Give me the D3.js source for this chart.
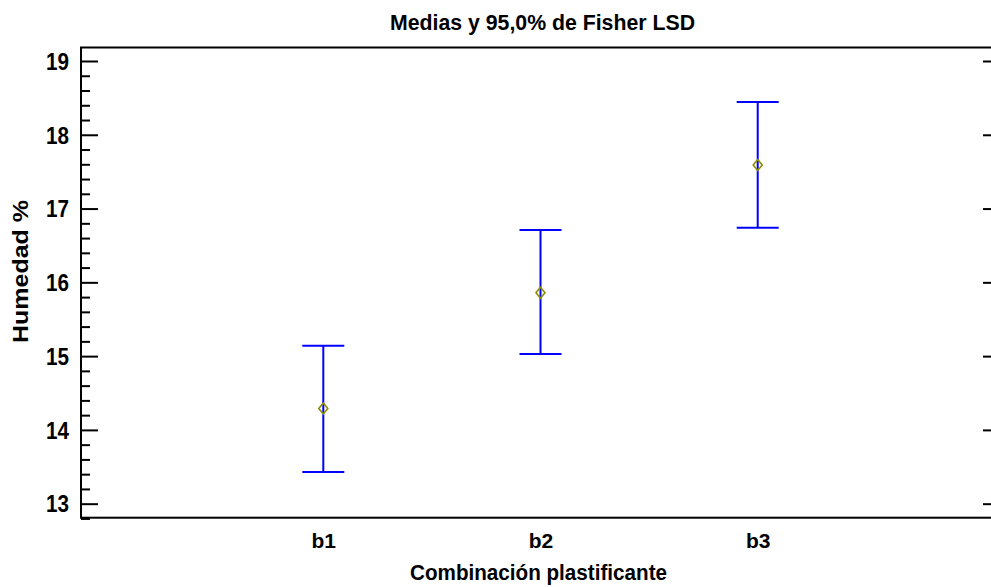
<!DOCTYPE html>
<html><head><meta charset="utf-8">
<script src="https://cdn.jsdelivr.net/npm/d3@7"></script>
<style>body{margin:0;background:#fff}svg{display:block}text{font-family:"Liberation Sans",Arial,sans-serif;font-weight:bold}</style>
</head><body>
<script>
const categories = ["b1","b2","b3"];
const means = [14.29, 15.86, 17.59];
const lower = [13.43, 15.03, 16.74];
const upper = [15.14, 16.71, 18.445];
const majorTicks = [13,14,15,16,17,18,19];
const minorTicks = d3.range(12.8, 19.2, 0.2).map(v=>+v.toFixed(1)).filter(v=>!majorTicks.includes(v));
const title = "Medias y 95,0% de Fisher LSD";
const xLabel = "Combinación plastificante";
const yLabel = "Humedad %";

const W=991,H=587, L=81, R=1000, T=47.5, B=517.7;
const svg=d3.select("body").append("svg").attr("width",W).attr("height",H);
const x=d3.scalePoint().domain(categories).range([L,R]).padding(1.1155);
const y=d3.scaleLinear().domain([12.81,19.183]).range([B,T]);

// frame
svg.append("rect").attr("x",L).attr("y",T).attr("width",R-L).attr("height",B-T)
  .attr("fill","none").attr("stroke","#000").attr("stroke-width",2);

// left axis
const gl=svg.append("g").attr("transform",`translate(${L},0)`)
  .call(d3.axisLeft(y).tickValues(majorTicks).tickSize(-17).tickPadding(12).tickFormat(d3.format("d")));
gl.select(".domain").remove();
gl.selectAll("line").attr("stroke","#000").attr("stroke-width",2);
gl.selectAll("text").attr("font-size",23).attr("fill","#000").attr("dy","0.36em")
  .attr("textLength",23).attr("lengthAdjust","spacingAndGlyphs")
  .style("font-family","'Liberation Sans',Arial,sans-serif").style("font-weight","bold");
const glm=svg.append("g").attr("transform",`translate(${L},0)`)
  .call(d3.axisLeft(y).tickValues(minorTicks).tickSize(-9).tickFormat(""));
glm.select(".domain").remove();
glm.selectAll("line").attr("stroke","#000").attr("stroke-width",2);

// right axis
const gr=svg.append("g").attr("transform",`translate(${R},0)`)
  .call(d3.axisRight(y).tickValues(majorTicks).tickSize(-17).tickFormat(""));
gr.select(".domain").remove();
gr.selectAll("line").attr("stroke","#000").attr("stroke-width",2);

// bottom category labels
const gb=svg.append("g").attr("transform",`translate(0,${B})`)
  .call(d3.axisBottom(x).tickSize(0).tickPadding(0));
gb.select(".domain").remove();
gb.selectAll("text").attr("font-size",21).attr("fill","#000").attr("y",548-B).attr("dy",0)
  .style("font-family","'Liberation Sans',Arial,sans-serif").style("font-weight","bold");

// error bars
const cap=21;
const data=categories.map((c,i)=>({c,m:means[i],lo:lower[i],hi:upper[i]}));
const g=svg.append("g");
g.selectAll(".v").data(data).join("line").attr("x1",d=>x(d.c)).attr("x2",d=>x(d.c))
  .attr("y1",d=>y(d.lo)).attr("y2",d=>y(d.hi)).attr("stroke","#0000ff").attr("stroke-width",2);
g.selectAll(".t").data(data).join("line").attr("x1",d=>x(d.c)-cap).attr("x2",d=>x(d.c)+cap)
  .attr("y1",d=>y(d.hi)).attr("y2",d=>y(d.hi)).attr("stroke","#0000ff").attr("stroke-width",2);
g.selectAll(".b").data(data).join("line").attr("x1",d=>x(d.c)-cap).attr("x2",d=>x(d.c)+cap)
  .attr("y1",d=>y(d.lo)).attr("y2",d=>y(d.lo)).attr("stroke","#0000ff").attr("stroke-width",2);
g.selectAll(".m").data(data).join("path")
  .attr("d",d=>{const cx=x(d.c),cy=y(d.m);return `M${cx},${cy-5.5}L${cx+4.5},${cy}L${cx},${cy+5.5}L${cx-4.5},${cy}Z`;})
  .attr("fill","none").attr("stroke","#8c8c00").attr("stroke-width",1.6);

// titles
svg.append("text").attr("x",542.5).attr("y",30).attr("text-anchor","middle").attr("font-size",22)
  .attr("textLength",305).attr("lengthAdjust","spacingAndGlyphs").text(title);
svg.append("text").attr("x",538.5).attr("y",580).attr("text-anchor","middle").attr("font-size",22)
  .attr("textLength",257).attr("lengthAdjust","spacingAndGlyphs").text(xLabel);
svg.append("text").attr("transform","translate(28,271.5) rotate(-90)").attr("text-anchor","middle").attr("font-size",22)
  .attr("textLength",143).attr("lengthAdjust","spacingAndGlyphs").text(yLabel);
</script>
</body></html>
